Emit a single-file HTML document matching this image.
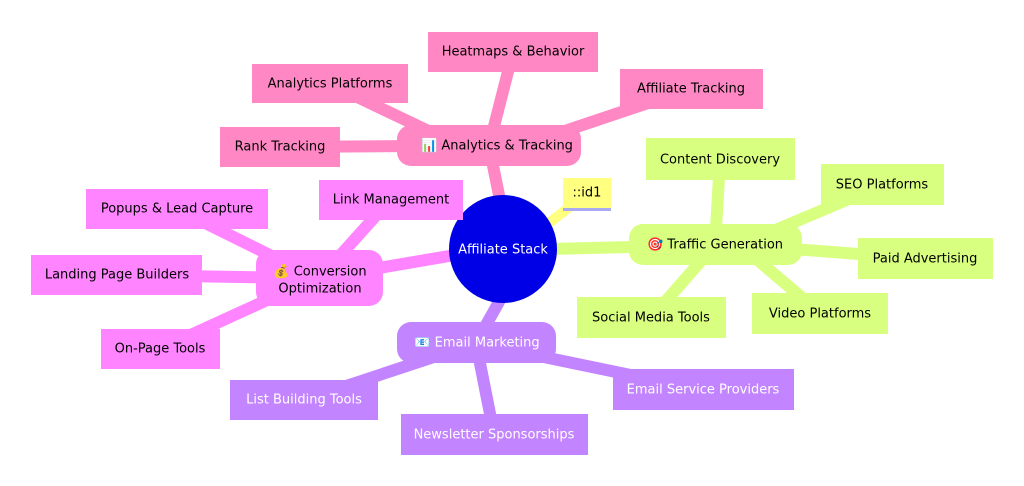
<!DOCTYPE html>
<html><head><meta charset="utf-8"><style>
html,body{margin:0;padding:0;background:#fff;}
svg{display:block}
text{font-family:"DejaVu Sans","Liberation Sans",sans-serif;font-size:13px;text-anchor:middle;dominant-baseline:central}
</style></head><body>
<svg width="1024" height="486" viewBox="0 0 1024 486" xmlns="http://www.w3.org/2000/svg">
<g stroke-linecap="round" fill="none">
 <!-- analytics -->
 <g stroke="#ff88c4" stroke-width="12">
  <line x1="500" y1="200" x2="489" y2="146"/>
  <line x1="489" y1="146" x2="513" y2="52"/>
  <line x1="460" y1="146" x2="330" y2="84"/>
  <line x1="520" y1="146" x2="690" y2="89"/>
  <line x1="420" y1="146" x2="280" y2="147"/>
 </g>
 <!-- conversion -->
 <g stroke="#ff84ff" stroke-width="12">
  <line x1="455" y1="255" x2="320" y2="278"/>
  <line x1="320" y1="278" x2="390" y2="200"/>
  <line x1="300" y1="270" x2="177" y2="209"/>
  <line x1="300" y1="278" x2="117" y2="275"/>
  <line x1="300" y1="285" x2="160" y2="349"/>
 </g>
 <!-- email -->
 <g stroke="#c384ff" stroke-width="12">
  <line x1="500" y1="300" x2="476" y2="343"/>
  <line x1="476" y1="343" x2="304" y2="400"/>
  <line x1="476" y1="343" x2="494" y2="434"/>
  <line x1="476" y1="343" x2="703" y2="390"/>
 </g>
 <!-- traffic -->
 <g stroke="#d9ff80" stroke-width="12">
  <line x1="550" y1="249" x2="715" y2="245"/>
  <line x1="715" y1="245" x2="720" y2="160"/>
  <line x1="740" y1="245" x2="882" y2="185"/>
  <line x1="740" y1="245" x2="925" y2="259"/>
  <line x1="740" y1="245" x2="820" y2="313"/>
  <line x1="715" y1="245" x2="651" y2="318"/>
 </g>
 <line x1="540" y1="230" x2="585" y2="195" stroke="#ffff80" stroke-width="10"/>
</g>
<!-- center -->
<circle cx="503" cy="249" r="54" fill="#0000e6"/>
<text x="503" y="250" fill="#fff">Affiliate Stack</text>
<!-- id1 -->
<rect x="563" y="178" width="48" height="31" fill="#ffff80"/>
<rect x="563" y="208" width="48" height="3" fill="#aaaaf0"/>
<text x="587" y="193" fill="#000">::id1</text>
<!-- analytics nodes -->
<g fill="#ff88c4">
 <rect x="397" y="125" width="184" height="41" rx="14"/>
 <rect x="428" y="32" width="170" height="40"/>
 <rect x="252" y="64" width="156" height="39"/>
 <rect x="620" y="69" width="143" height="40"/>
 <rect x="220" y="127" width="120" height="40"/>
</g>
<g fill="#000">
 <text x="497" y="146">📊 Analytics &amp; Tracking</text>
 <text x="513" y="52">Heatmaps &amp; Behavior</text>
 <text x="330" y="84">Analytics Platforms</text>
 <text x="691" y="89">Affiliate Tracking</text>
 <text x="280" y="147">Rank Tracking</text>
</g>
<!-- conversion -->
<g fill="#ff84ff">
 <rect x="256" y="250" width="127" height="56" rx="14"/>
 <rect x="319" y="180" width="144" height="40"/>
 <rect x="86" y="189" width="182" height="40"/>
 <rect x="31" y="255" width="171" height="40"/>
 <rect x="101" y="329" width="119" height="40"/>
</g>
<g fill="#000">
 <text x="320" y="272">💰 Conversion</text>
 <text x="320" y="289">Optimization</text>
 <text x="391" y="200">Link Management</text>
 <text x="177" y="209">Popups &amp; Lead Capture</text>
 <text x="117" y="275">Landing Page Builders</text>
 <text x="160" y="349">On-Page Tools</text>
</g>
<!-- email -->
<g fill="#c384ff">
 <rect x="397" y="322" width="159" height="41" rx="14"/>
 <rect x="230" y="380" width="148" height="40"/>
 <rect x="401" y="414" width="187" height="41"/>
 <rect x="613" y="369" width="181" height="41"/>
</g>
<g fill="#fff">
 <text x="477" y="343">📧 Email Marketing</text>
 <text x="304" y="400">List Building Tools</text>
 <text x="494" y="435">Newsletter Sponsorships</text>
 <text x="703" y="390">Email Service Providers</text>
</g>
<!-- traffic -->
<g fill="#d9ff80">
 <rect x="629" y="224" width="173" height="41" rx="14"/>
 <rect x="646" y="138" width="149" height="42"/>
 <rect x="821" y="164" width="123" height="41"/>
 <rect x="858" y="238" width="135" height="41"/>
 <rect x="752" y="293" width="136" height="41"/>
 <rect x="577" y="297" width="149" height="41"/>
</g>
<g fill="#000">
 <text x="715" y="245">🎯 Traffic Generation</text>
 <text x="720" y="160">Content Discovery</text>
 <text x="882" y="185">SEO Platforms</text>
 <text x="925" y="259">Paid Advertising</text>
 <text x="820" y="314">Video Platforms</text>
 <text x="651" y="318">Social Media Tools</text>
</g>
</svg>
</body></html>
